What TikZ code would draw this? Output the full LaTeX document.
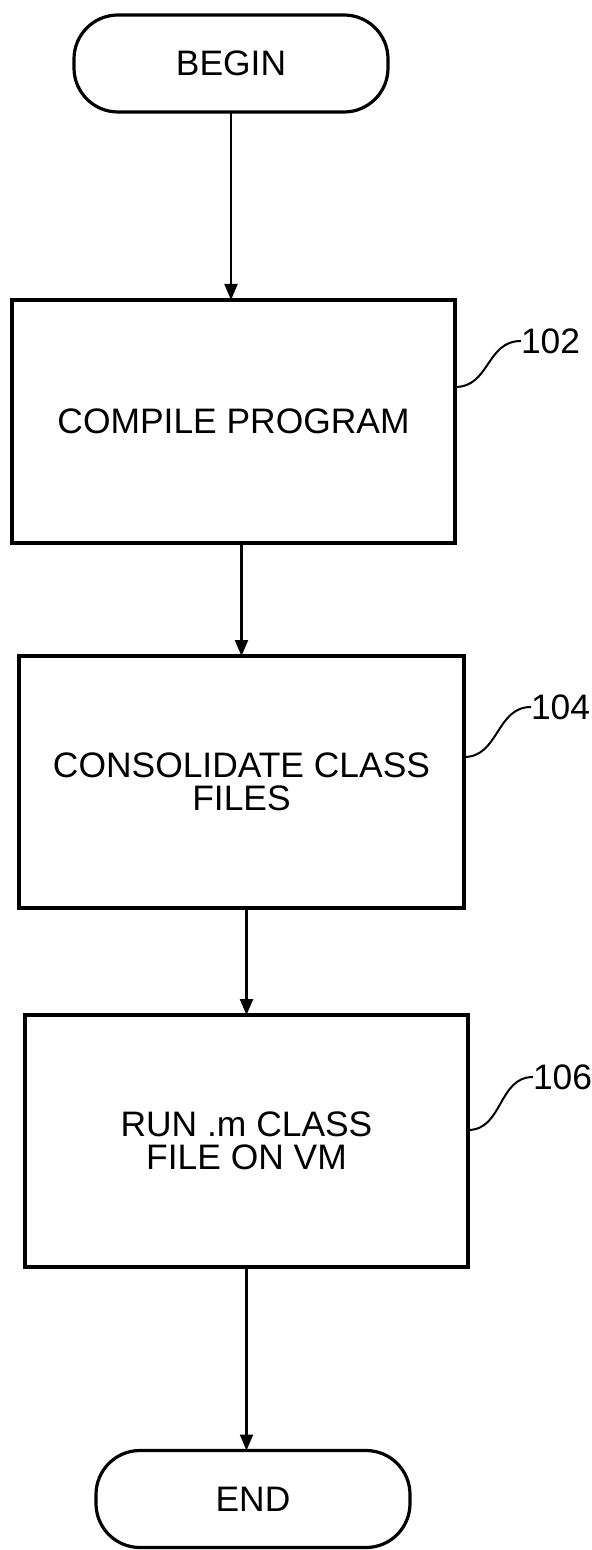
\documentclass[tikz,border=0pt]{standalone}
\usepackage{fontspec}
\setmainfont{Liberation Sans}
\usetikzlibrary{arrows.meta}
\begin{document}
\begin{tikzpicture}[x=0.5pt,y=-0.5pt,
  every node/.style={font=\fontsize{17.7}{16.5}\selectfont, inner sep=0pt, outer sep=0pt},
  term/.style={draw, line width=1.6pt, rounded corners=22pt, minimum width=157pt, minimum height=48.5pt},
  stepbox/.style={draw, line width=2pt, align=center},
  flow/.style={draw, line width=1.1pt, -{Triangle[length=8pt,width=6.5pt]}},
  leader/.style={draw, line width=1pt},
  reflabel/.style={anchor=west}]
\useasboundingbox (0,0) rectangle (591,1550);
\node[term] (begin) at (231,63.5) {BEGIN};
\node[stepbox, minimum width=221.5pt, minimum height=121.5pt] (p102) at (233.5,421.5) {COMPILE PROGRAM};
\node[stepbox, minimum width=222.5pt, minimum height=126pt] (p104) at (241.5,782) {CONSOLIDATE CLASS\\FILES};
\node[stepbox, minimum width=221.5pt, minimum height=126pt] (p106) at (246.5,1141) {RUN .m CLASS\\FILE ON VM};
\node[term] (end) at (253,1499) {END};
\node[reflabel] (l102) at (521,341) {102};
\node[reflabel] (l104) at (531,707) {104};
\node[reflabel] (l106) at (533,1077) {106};
\draw[flow] (begin.south) -- (begin.south |- p102.north);
\draw[flow] (p102.south -| p104.north) -- (p104.north);
\draw[flow] (p104.south -| p106.north) -- (p106.north);
\draw[flow] (p106.south) -- (p106.south |- end.north);
\draw[leader] ([yshift=17.25pt]p102.east) .. controls +(35,0) and +(-35,0) .. (l102.west);
\draw[leader] ([yshift=12.5pt]p104.east) .. controls +(35,0) and +(-35,0) .. (l104.west);
\draw[leader] ([yshift=5.5pt]p106.east) .. controls +(35,0) and +(-35,0) .. (l106.west);
\end{tikzpicture}
\end{document}
